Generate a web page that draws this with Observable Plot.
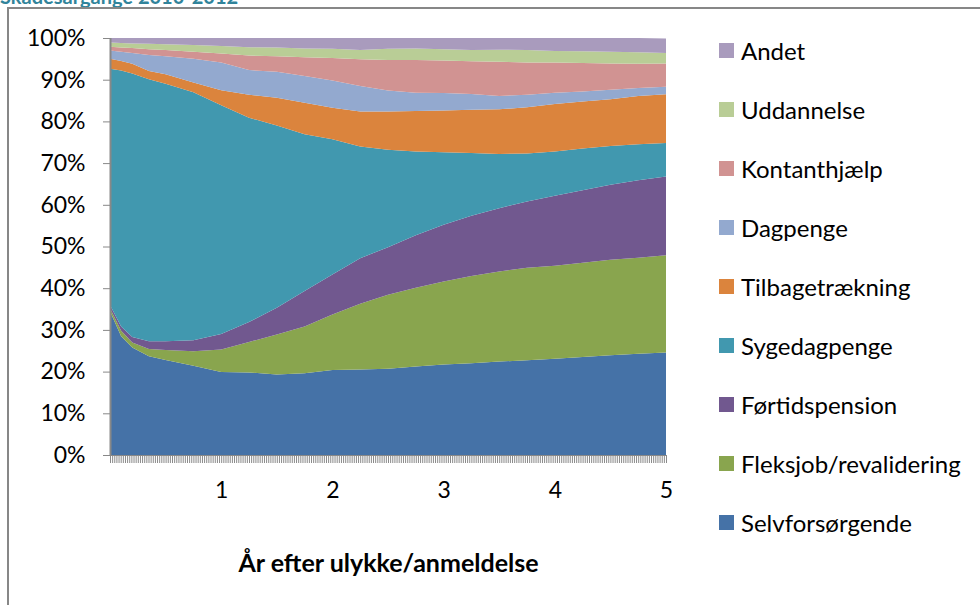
<!DOCTYPE html>
<html><head><meta charset="utf-8">
<script src="https://cdn.jsdelivr.net/npm/d3@7"></script>
<script src="https://cdn.jsdelivr.net/npm/@observablehq/plot@0.6"></script>
<style>
html,body{margin:0;padding:0;background:#fff;}
#wrap{position:relative;width:980px;height:605px;overflow:hidden;font-family:Lato,"Open Sans",sans-serif;}
#frame{position:absolute;left:7px;top:7px;width:1100px;height:700px;border:2px solid #878787;box-sizing:border-box;pointer-events:none;}
#title{position:absolute;left:0;top:-14px;font-weight:bold;font-size:20px;line-height:20px;color:#31849B;white-space:nowrap;}
#legend{position:absolute;left:719px;top:0;}
.item{position:absolute;left:0;height:24px;display:flex;align-items:center;white-space:nowrap;font-size:24px;color:#000;}
.sw{width:15px;height:15px;margin-right:7px;flex:none;}
#chart{position:absolute;left:0;top:0;}
</style></head>
<body><div id="wrap"><div id="title">Skadesårgange 2010-2012</div><div id="chart"></div><div id="legend"></div><div id="frame"></div></div>
<script>
// År efter ulykke/anmeldelse
const years = [0, 0.1, 0.2, 0.35, 0.5, 0.75, 1, 1.25, 1.5, 1.75, 2, 2.25, 2.5, 2.75, 3, 3.25, 3.5, 3.75, 4, 4.25, 4.5, 4.75, 5];

const seriesNames = ["Selvforsørgende", "Fleksjob/revalidering", "Førtidspension", "Sygedagpenge", "Tilbagetrækning", "Dagpenge", "Kontanthjælp", "Uddannelse", "Andet"];
const seriesColors = ["#4572A7", "#89A54E", "#71588F", "#4198AF", "#DB843D", "#93A9CF", "#D19392", "#B9CD96", "#A99BBD"];

// shares in percent
const selvforsorgende = [34.5, 28.5, 25.8, 23.7, 22.8, 21.4, 19.9, 19.8, 19.3, 19.6, 20.4, 20.5, 20.7, 21.2, 21.7, 22.0, 22.4, 22.7, 23.1, 23.5, 23.9, 24.3, 24.6];
const fleksjob = [0.7, 1.3, 1.2, 1.7, 2.4, 3.5, 5.4, 7.3, 9.6, 11.2, 13.3, 15.8, 17.7, 18.9, 19.9, 20.9, 21.6, 22.2, 22.3, 22.6, 22.9, 23.0, 23.3];
const fortidspension = [0.8, 1.0, 1.3, 1.9, 2.1, 2.6, 3.7, 4.8, 6.4, 8.5, 9.6, 10.9, 11.4, 12.6, 13.6, 14.5, 15.2, 15.9, 16.8, 17.4, 18.0, 18.6, 18.9];
const sygedagpenge = [56.6, 61.4, 63.2, 62.8, 61.7, 59.5, 54.9, 49.0, 43.7, 37.6, 32.4, 26.8, 23.4, 20.1, 17.4, 15.0, 13.0, 11.5, 10.6, 10.0, 9.3, 8.6, 8.0];
const tilbagetraekning = [2.4, 2.3, 2.3, 2.0, 2.3, 2.3, 3.6, 5.5, 6.7, 7.6, 7.6, 8.4, 9.2, 9.7, 10.0, 10.4, 10.7, 11.1, 11.4, 11.3, 11.2, 11.6, 11.7];
const dagpenge = [2.0, 2.2, 2.6, 3.8, 4.3, 5.7, 6.6, 5.9, 6.2, 6.4, 6.5, 6.1, 5.0, 4.4, 4.2, 3.8, 3.2, 3.0, 2.7, 2.4, 2.3, 1.9, 1.8];
const kontanthjaelp = [0.9, 1.0, 1.2, 1.4, 1.5, 1.7, 2.2, 3.5, 3.7, 4.5, 5.4, 6.4, 7.3, 7.8, 7.8, 7.8, 8.2, 7.7, 7.2, 6.8, 6.3, 5.8, 5.6];
const uddannelse = [1.0, 1.1, 1.1, 1.3, 1.4, 1.6, 1.8, 2.0, 2.1, 2.1, 2.2, 2.2, 2.7, 2.8, 2.7, 2.7, 2.9, 3.0, 2.8, 2.8, 2.8, 2.8, 2.5];
const andet = [1.1, 1.2, 1.3, 1.4, 1.5, 1.7, 1.9, 2.2, 2.3, 2.5, 2.6, 2.9, 2.6, 2.5, 2.7, 2.9, 2.8, 2.9, 3.1, 3.2, 3.3, 3.4, 3.5];

const yTicks = [0, 10, 20, 30, 40, 50, 60, 70, 80, 90, 100];
const xTickLabels = [1, 2, 3, 4, 5];
const xTitle = "År efter ulykke/anmeldelse";
// category ticks: one per week over five years
const weekTicks = d3.range(0, 261).map(w => w / 52);

const seriesValues = [selvforsorgende, fleksjob, fortidspension, sygedagpenge, tilbagetraekning, dagpenge, kontanthjaelp, uddannelse, andet];
const rows = [];
seriesNames.forEach((name, s) => {
  years.forEach((yr, i) => rows.push({series: name, year: yr, value: seriesValues[s][i]}));
});

const plot = Plot.plot({
  width: 980,
  height: 605,
  marginLeft: 110,
  marginRight: 314,
  marginTop: 38,
  marginBottom: 150,
  style: {background: "transparent", fontFamily: "Lato, 'Open Sans', sans-serif", color: "#000"},
  x: {domain: [0, 5]},
  y: {domain: [0, 100]},
  color: {domain: seriesNames, range: seriesColors},
  marks: [
    Plot.areaY(rows, {x: "year", y: "value", fill: "series", order: seriesNames, curve: "linear"}),
    Plot.axisY(yTicks, {tickFormat: d => d + "%", tickSize: 7, tickPadding: 18, stroke: "#888", fill: "#000", fontSize: 23, label: null}),
    Plot.axisX(weekTicks, {tickSize: 8, tickFormat: () => "", stroke: "#8a8a8a", label: null}),
    Plot.axisX(xTickLabels, {tickSize: 0, tickPadding: 26, fill: "#000", fontSize: 23, label: null}),
    Plot.ruleX([0], {stroke: "#888", strokeWidth: 2}),
    Plot.ruleY([0], {stroke: "#888", strokeWidth: 1}),
    Plot.text([xTitle], {frameAnchor: "bottom", dy: 108, fontWeight: "bold", fontSize: 25, fill: "#000", lineAnchor: "middle"})
  ]
});
document.getElementById("chart").appendChild(plot);

const legend = document.getElementById("legend");
const legendOrder = seriesNames.slice().reverse();
legendOrder.forEach((name, i) => {
  const item = document.createElement("div");
  item.className = "item";
  item.style.top = (50 + i * 59 - 12) + "px";
  const sw = document.createElement("span");
  sw.className = "sw";
  sw.style.background = seriesColors[seriesNames.indexOf(name)];
  const t = document.createElement("span");
  t.textContent = name;
  item.appendChild(sw);
  item.appendChild(t);
  legend.appendChild(item);
});
</script>
</body></html>
